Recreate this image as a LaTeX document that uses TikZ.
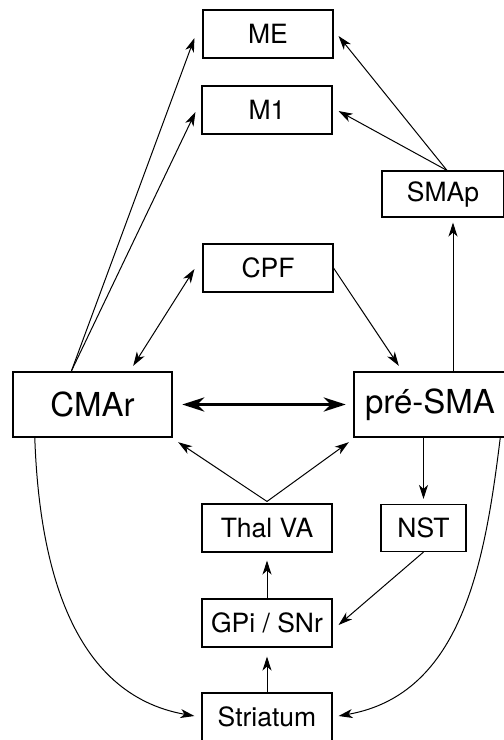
\documentclass[tikz,border=0pt]{standalone}
\usepackage{fontspec}
\setmainfont{TeX Gyre Heros}
\usetikzlibrary{arrows.meta}

\tikzset{
  area/.style={draw, line width=1.1pt, minimum width=130pt, minimum height=48pt,
    inner sep=0pt, font=\fontsize{26.5}{30}\selectfont},
  bigarea/.style={area, line width=2.4pt, minimum height=65pt,
    font=\fontsize{33}{38}\selectfont},
  proj/.style={line width=1pt, -{Stealth[length=14pt,width=9pt,inset=4pt]}},
  recip/.style={line width=1pt,
    {Stealth[length=14pt,width=9pt,inset=4pt]}-{Stealth[length=14pt,width=9pt,inset=4pt]}},
  bigrecip/.style={line width=3.2pt,
    {Stealth[length=22pt,width=14pt,inset=7pt]}-{Stealth[length=22pt,width=14pt,inset=7pt]}}
}

\begin{document}
\begin{tikzpicture}[x=1pt, y=-1pt]

  \useasboundingbox (0,0) rectangle (504,740);

  % cortical areas
  \node[area] (ME)   at (268,34)  {ME};
  \node[area] (M1)   at (267,110) {M1};
  \node[area, minimum width=122pt, minimum height=46pt] (SMAp) at (443,194) {SMAp};
  \node[area] (CPF)  at (268,268) {CPF};
  \node[bigarea, minimum width=159pt] (CMAr)   at (92.5,404.5) {CMAr};
  \node[bigarea, minimum width=152pt] (preSMA) at (430,404.5) {pré-SMA};

  % basal ganglia loop
  \node[area] (ThalVA) at (267,528) {Thal VA};
  \node[area, minimum width=85pt, minimum height=47pt] (NST) at (423.5,528) {NST};
  \node[area] (GPi)      at (267,623) {GPi / SNr};
  \node[area] (Striatum) at (267,717) {Striatum};

  % projections to motor areas
  \draw[proj] ([xshift=-21pt]CMAr.north) -- ([xshift=-8pt,yshift=-4pt]ME.west);
  \draw[proj] ([xshift=-21pt]CMAr.north) -- ([xshift=-6pt,yshift=-2pt]M1.west);
  \draw[proj] ([xshift=4pt]SMAp.north) -- ([xshift=5pt,yshift=-2pt]ME.east);
  \draw[proj] ([xshift=4pt]SMAp.north) -- ([xshift=6pt,yshift=-1pt]M1.east);
  \draw[proj] ([xshift=23pt]preSMA.north) -- ([xshift=10pt,yshift=-5pt]SMAp.south);

  % prefrontal links
  \draw[recip] ([xshift=-8pt,yshift=-1pt]CPF.west) -- ([xshift=-40pt,yshift=5pt]CMAr.north east);
  \draw[proj] (CPF.east) -- ([xshift=46pt,yshift=5pt]preSMA.north west);
  \draw[bigrecip] ([xshift=9pt]CMAr.east) -- ([xshift=-7pt]preSMA.west);

  % thalamic returns
  \draw[proj] ([yshift=2pt]ThalVA.north) -- ([xshift=5pt,yshift=-4pt]CMAr.south east);
  \draw[proj] ([yshift=2pt]ThalVA.north) -- ([xshift=-4pt,yshift=-4pt]preSMA.south west);

  % hyperdirect and direct pathway
  \draw[proj] (preSMA.south -| NST.north) -- ([yshift=5pt]NST.north);
  \draw[proj] (NST.south) -- ([xshift=6pt,yshift=-2pt]GPi.east);
  \draw[proj] (GPi.north) -- ([yshift=-8pt]ThalVA.south);
  \draw[proj] (Striatum.north) -- ([yshift=-9pt]GPi.south);

  % corticostriatal inputs
  \draw[proj] ([xshift=23pt]CMAr.south west) to[out=-88, in=170]
    ([xshift=-7pt,yshift=1pt]Striatum.west);
  \draw[proj] ([xshift=-7pt]preSMA.south east) to[out=-97, in=10]
    ([xshift=6pt,yshift=1pt]Striatum.east);

\end{tikzpicture}
\end{document}
